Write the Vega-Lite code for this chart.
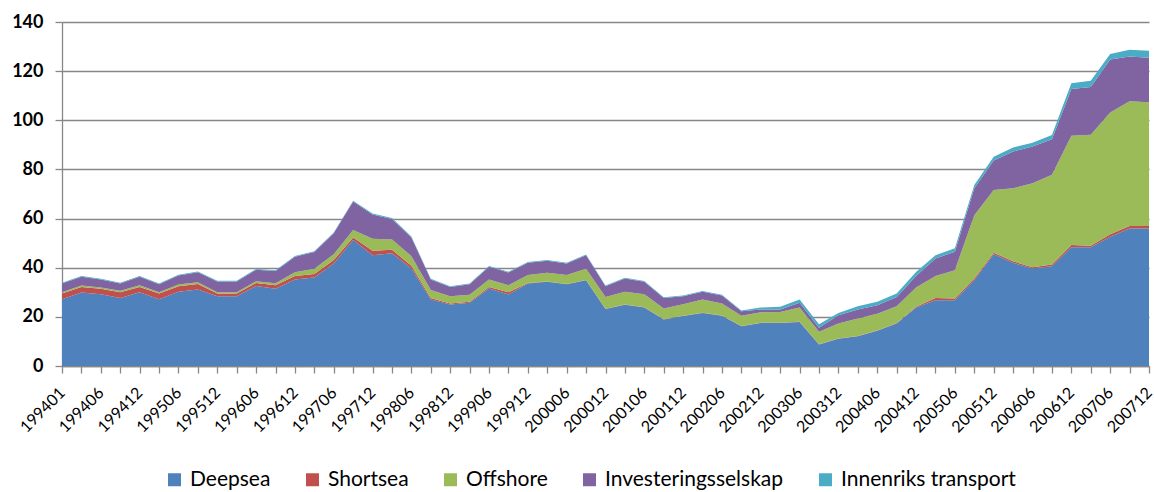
{
  "$schema": "https://vega.github.io/schema/vega-lite/v6.json",
  "width": 1087,
  "height": 344,
  "autosize": "none",
  "padding": {"left": 62, "top": 22, "right": 5, "bottom": 126},
  "background": "white",
  "config": {
    "view": {"stroke": null},
    "font": "Lato"
  },
  "data": {
    "values": [
      {"d":"199401","Deepsea":27.2,"Shortsea":2.3,"Offshore":0.5,"Investeringsselskap":3.6,"Innenriks transport":0.3},
      {"d":"199403","Deepsea":29.9,"Shortsea":2.3,"Offshore":0.6,"Investeringsselskap":3.5,"Innenriks transport":0.3},
      {"d":"199406","Deepsea":29.2,"Shortsea":2.2,"Offshore":0.5,"Investeringsselskap":3.3,"Innenriks transport":0.3},
      {"d":"199409","Deepsea":27.7,"Shortsea":2.3,"Offshore":0.6,"Investeringsselskap":3.0,"Innenriks transport":0.3},
      {"d":"199412","Deepsea":30.0,"Shortsea":2.2,"Offshore":0.7,"Investeringsselskap":3.4,"Innenriks transport":0.3},
      {"d":"199503","Deepsea":27.2,"Shortsea":2.3,"Offshore":0.5,"Investeringsselskap":3.3,"Innenriks transport":0.3},
      {"d":"199506","Deepsea":30.2,"Shortsea":2.3,"Offshore":0.7,"Investeringsselskap":3.6,"Innenriks transport":0.3},
      {"d":"199509","Deepsea":31.1,"Shortsea":2.3,"Offshore":0.7,"Investeringsselskap":4.1,"Innenriks transport":0.3},
      {"d":"199512","Deepsea":28.4,"Shortsea":1.1,"Offshore":0.5,"Investeringsselskap":4.4,"Innenriks transport":0.3},
      {"d":"199603","Deepsea":28.4,"Shortsea":1.1,"Offshore":0.5,"Investeringsselskap":4.4,"Innenriks transport":0.3},
      {"d":"199606","Deepsea":32.6,"Shortsea":1.2,"Offshore":0.7,"Investeringsselskap":4.7,"Innenriks transport":0.3},
      {"d":"199609","Deepsea":31.4,"Shortsea":1.5,"Offshore":0.8,"Investeringsselskap":5.0,"Innenriks transport":0.3},
      {"d":"199612","Deepsea":35.2,"Shortsea":1.4,"Offshore":1.6,"Investeringsselskap":6.3,"Innenriks transport":0.3},
      {"d":"199703","Deepsea":36.0,"Shortsea":1.4,"Offshore":2.2,"Investeringsselskap":6.8,"Innenriks transport":0.3},
      {"d":"199706","Deepsea":41.7,"Shortsea":1.4,"Offshore":2.4,"Investeringsselskap":8.5,"Innenriks transport":0.3},
      {"d":"199709","Deepsea":51.3,"Shortsea":1.0,"Offshore":3.0,"Investeringsselskap":11.6,"Innenriks transport":0.4},
      {"d":"199712","Deepsea":45.1,"Shortsea":1.8,"Offshore":4.9,"Investeringsselskap":9.9,"Innenriks transport":0.4},
      {"d":"199803","Deepsea":45.9,"Shortsea":1.4,"Offshore":4.2,"Investeringsselskap":8.3,"Innenriks transport":0.4},
      {"d":"199806","Deepsea":39.7,"Shortsea":1.1,"Offshore":3.9,"Investeringsselskap":7.6,"Innenriks transport":0.4},
      {"d":"199809","Deepsea":27.1,"Shortsea":0.6,"Offshore":3.2,"Investeringsselskap":4.3,"Innenriks transport":0.3},
      {"d":"199812","Deepsea":25.0,"Shortsea":0.4,"Offshore":3.0,"Investeringsselskap":3.8,"Innenriks transport":0.3},
      {"d":"199903","Deepsea":25.7,"Shortsea":0.4,"Offshore":2.9,"Investeringsselskap":4.3,"Innenriks transport":0.3},
      {"d":"199906","Deepsea":31.5,"Shortsea":0.7,"Offshore":3.0,"Investeringsselskap":5.2,"Innenriks transport":0.3},
      {"d":"199909","Deepsea":29.1,"Shortsea":0.9,"Offshore":2.9,"Investeringsselskap":5.2,"Innenriks transport":0.3},
      {"d":"199912","Deepsea":33.6,"Shortsea":0.2,"Offshore":3.2,"Investeringsselskap":5.0,"Innenriks transport":0.3},
      {"d":"200003","Deepsea":34.3,"Shortsea":0.1,"Offshore":3.5,"Investeringsselskap":4.9,"Innenriks transport":0.3},
      {"d":"200006","Deepsea":33.3,"Shortsea":0.1,"Offshore":3.6,"Investeringsselskap":4.7,"Innenriks transport":0.3},
      {"d":"200009","Deepsea":34.9,"Shortsea":0.1,"Offshore":4.6,"Investeringsselskap":5.5,"Innenriks transport":0.3},
      {"d":"200012","Deepsea":23.2,"Shortsea":0.1,"Offshore":4.8,"Investeringsselskap":4.4,"Innenriks transport":0.3},
      {"d":"200103","Deepsea":24.9,"Shortsea":0.1,"Offshore":5.2,"Investeringsselskap":5.4,"Innenriks transport":0.3},
      {"d":"200106","Deepsea":23.8,"Shortsea":0.1,"Offshore":5.3,"Investeringsselskap":5.1,"Innenriks transport":0.3},
      {"d":"200109","Deepsea":18.9,"Shortsea":0.1,"Offshore":4.4,"Investeringsselskap":4.3,"Innenriks transport":0.3},
      {"d":"200112","Deepsea":20.3,"Shortsea":0.1,"Offshore":4.7,"Investeringsselskap":3.3,"Innenriks transport":0.3},
      {"d":"200203","Deepsea":21.6,"Shortsea":0.1,"Offshore":5.4,"Investeringsselskap":3.1,"Innenriks transport":0.3},
      {"d":"200206","Deepsea":20.5,"Shortsea":0.1,"Offshore":4.8,"Investeringsselskap":3.3,"Innenriks transport":0.3},
      {"d":"200209","Deepsea":16.2,"Shortsea":0.1,"Offshore":4.2,"Investeringsselskap":1.8,"Innenriks transport":0.3},
      {"d":"200212","Deepsea":17.5,"Shortsea":0.1,"Offshore":4.3,"Investeringsselskap":1.1,"Innenriks transport":0.8},
      {"d":"200303","Deepsea":17.5,"Shortsea":0.1,"Offshore":4.4,"Investeringsselskap":1.0,"Innenriks transport":1.1},
      {"d":"200306","Deepsea":17.9,"Shortsea":0.1,"Offshore":5.8,"Investeringsselskap":1.9,"Innenriks transport":1.4},
      {"d":"200309","Deepsea":8.8,"Shortsea":0.1,"Offshore":5.0,"Investeringsselskap":1.7,"Innenriks transport":1.4},
      {"d":"200312","Deepsea":11.1,"Shortsea":0.1,"Offshore":6.1,"Investeringsselskap":3.4,"Innenriks transport":0.9},
      {"d":"200403","Deepsea":12.1,"Shortsea":0.1,"Offshore":7.1,"Investeringsselskap":3.7,"Innenriks transport":1.3},
      {"d":"200406","Deepsea":14.3,"Shortsea":0.1,"Offshore":6.9,"Investeringsselskap":3.4,"Innenriks transport":1.4},
      {"d":"200409","Deepsea":17.3,"Shortsea":0.2,"Offshore":6.8,"Investeringsselskap":3.8,"Innenriks transport":1.4},
      {"d":"200412","Deepsea":23.8,"Shortsea":0.3,"Offshore":7.8,"Investeringsselskap":4.7,"Innenriks transport":1.7},
      {"d":"200503","Deepsea":26.8,"Shortsea":0.9,"Offshore":8.9,"Investeringsselskap":7.2,"Innenriks transport":1.3},
      {"d":"200506","Deepsea":26.8,"Shortsea":0.7,"Offshore":11.5,"Investeringsselskap":7.5,"Innenriks transport":1.4},
      {"d":"200509","Deepsea":34.9,"Shortsea":0.7,"Offshore":25.8,"Investeringsselskap":10.9,"Innenriks transport":1.4},
      {"d":"200512","Deepsea":45.5,"Shortsea":0.6,"Offshore":25.5,"Investeringsselskap":12.0,"Innenriks transport":1.6},
      {"d":"200603","Deepsea":42.0,"Shortsea":0.6,"Offshore":29.7,"Investeringsselskap":15.0,"Innenriks transport":1.6},
      {"d":"200606","Deepsea":39.7,"Shortsea":0.5,"Offshore":34.2,"Investeringsselskap":14.9,"Innenriks transport":1.6},
      {"d":"200609","Deepsea":40.6,"Shortsea":0.7,"Offshore":36.5,"Investeringsselskap":14.5,"Innenriks transport":1.7},
      {"d":"200612","Deepsea":48.3,"Shortsea":0.9,"Offshore":44.5,"Investeringsselskap":19.0,"Innenriks transport":2.4},
      {"d":"200703","Deepsea":48.3,"Shortsea":0.6,"Offshore":45.2,"Investeringsselskap":19.4,"Innenriks transport":2.6},
      {"d":"200706","Deepsea":52.6,"Shortsea":1.0,"Offshore":49.6,"Investeringsselskap":21.5,"Innenriks transport":2.3},
      {"d":"200709","Deepsea":56.0,"Shortsea":1.0,"Offshore":50.7,"Investeringsselskap":18.3,"Innenriks transport":2.7},
      {"d":"200712","Deepsea":56.0,"Shortsea":1.0,"Offshore":50.3,"Investeringsselskap":18.1,"Innenriks transport":2.9}
    ]
  },
  "transform": [
    {"fold": ["Deepsea","Shortsea","Offshore","Investeringsselskap","Innenriks transport"], "as": ["serie","verdi"]}
  ],
  "mark": {"type": "area", "interpolate": "linear"},
  "encoding": {
    "x": {
      "field": "d",
      "type": "ordinal",
      "scale": {"type": "point", "padding": 0},
      "axis": {
        "title": null,
        "labelAngle": -45,
        "labelAlign": "right",
        "labelBaseline": "middle",
        "labelFont": "Lato",
        "labelFontSize": 16,
        "labelColor": "black",
        "labelPadding": 17,
        "labelOverlap": false,
        "labelExpr": "(substring(datum.label,4,6)=='03' || substring(datum.label,4,6)=='09') ? '' : datum.label",
        "tickSize": 7,
        "tickColor": "#878787",
        "tickWidth": 1.3,
        "domainColor": "#878787",
        "domainWidth": 1.3,
        "grid": false
      }
    },
    "y": {
      "field": "verdi",
      "type": "quantitative",
      "stack": "zero",
      "scale": {"domain": [0, 140], "nice": false},
      "axis": {
        "title": null,
        "values": [0,20,40,60,80,100,120,140],
        "labelFont": "Lato",
        "labelFontSize": 18,
        "labelFontWeight": "bold",
        "labelColor": "black",
        "labelPadding": 12,
        "tickSize": 7,
        "tickColor": "#878787",
        "tickWidth": 1.3,
        "domainColor": "#878787",
        "domainWidth": 1.3,
        "grid": true,
        "gridColor": "#878787",
        "gridWidth": 1.3
      }
    },
    "color": {
      "field": "serie",
      "type": "nominal",
      "sort": ["Deepsea","Shortsea","Offshore","Investeringsselskap","Innenriks transport"],
      "scale": {
        "domain": ["Deepsea","Shortsea","Offshore","Investeringsselskap","Innenriks transport"],
        "range": ["#4F81BD","#C0504D","#9BBB59","#8064A2","#4BACC6"]
      },
      "legend": {
        "title": null,
        "orient": "none",
        "direction": "horizontal",
        "legendX": 102,
        "legendY": 447,
        "padding": 0,
        "symbolType": "square",
        "symbolSize": 169,
        "symbolStrokeWidth": 0,
        "labelFont": "Lato",
        "labelFontSize": 21,
        "labelColor": "black",
        "labelOffset": 5,
        "columnPadding": 31,
        "labelLimit": 400
      }
    },
    "order": {"field": "serie_order", "type": "quantitative"}
  }
}
